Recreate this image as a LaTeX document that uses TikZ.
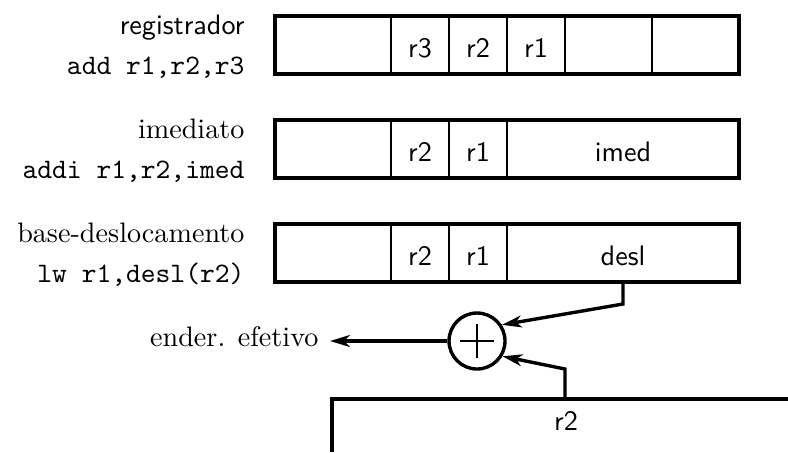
\documentclass[tikz,border=0pt]{standalone}
\usetikzlibrary{arrows.meta}
% one drawing unit
\newcommand\pxu{0.355pt}
% a field of an instruction word: name, left x, right x, centre y, text
\newcommand\fieldcell[5]{%
  \node[cell, minimum width={(#3-#2)*\pxu}] (#1) at ({(#2+#3)/2},#4) {};
  \path (#1.south) ++(0,-17) node[field] (#1-t) {#5};}
\tikzset{
  cell/.style={draw, rectangle, line width=0.6pt, inner sep=0pt, outer sep=0pt,
               minimum height=58*\pxu},
  frame/.style={line width=1.4pt},
  field/.style={font=\sffamily, anchor=base, inner sep=0pt},
  mode/.style={anchor=base east, inner sep=0pt},
  wire/.style={line width=1.2pt},
  arrow/.style={wire, -{Stealth[length=7pt,width=4.2pt,inset=2pt]}},
}
\begin{document}
\begin{tikzpicture}[x=\pxu, y=-\pxu]
\useasboundingbox (0,0) rectangle (788,452);

% register format
\fieldcell{a1}{275}{391}{45}{}
\fieldcell{a2}{391}{449}{45}{r3}
\fieldcell{a3}{449}{507}{45}{r2}
\fieldcell{a4}{507}{565}{45}{r1}
\fieldcell{a5}{565}{652}{45}{}
\fieldcell{a6}{652}{739}{45}{}
\draw[frame] (a1.north west) rectangle (a6.south east);

% immediate format
\fieldcell{b1}{275}{391}{149}{}
\fieldcell{b2}{391}{449}{149}{r2}
\fieldcell{b3}{449}{507}{149}{r1}
\fieldcell{b4}{507}{739}{149}{imed}
\draw[frame] (b1.north west) rectangle (b4.south east);

% base + displacement format
\fieldcell{c1}{275}{391}{253}{}
\fieldcell{c2}{391}{449}{253}{r2}
\fieldcell{c3}{449}{507}{253}{r1}
\fieldcell{desl}{507}{739}{253}{desl}
\draw[frame] (c1.north west) rectangle (desl.south east);

% addressing mode names and example instructions
\node[mode, font=\sffamily] (m1) at (245,34)  {registrador};
\node[mode, font=\ttfamily] (i1) at (245,74)  {add r1,r2,r3};
\node[mode]                 (m2) at (245,138) {imediato};
\node[mode, font=\ttfamily] (i2) at (245,178) {addi r1,r2,imed};
\node[mode]                 (m3) at (245,242) {base-deslocamento};
\node[mode, font=\ttfamily] (i3) at (245,282) {lw r1,desl(r2)};

% adder
\node[draw, circle, line width=1.2pt, minimum size=56*\pxu, inner sep=0pt] (sum) at (477,341) {};
\draw[line width=0.9pt] (sum.center) +(-17,0) -- +(17,0)
                        (sum.center) +(0,-17) -- +(0,17);

% effective address output
\node[mode, inner xsep=11*\pxu] (ea) at (330,346) {ender. efetivo};
\draw[arrow] (sum) -- (sum -| ea.east);

% register r2
\draw[wire] (332,452) -- (332,399) -- (788,399);
\coordinate (tap) at (565,399);
\node[field] (r2b) at (566,430) {r2};

% operands into the adder
\draw[arrow] (desl.south) -- ++(0,22) -- (sum.33);
\draw[arrow] (tap) -- ++(0,-30) -- (sum.-31);
\end{tikzpicture}
\end{document}
